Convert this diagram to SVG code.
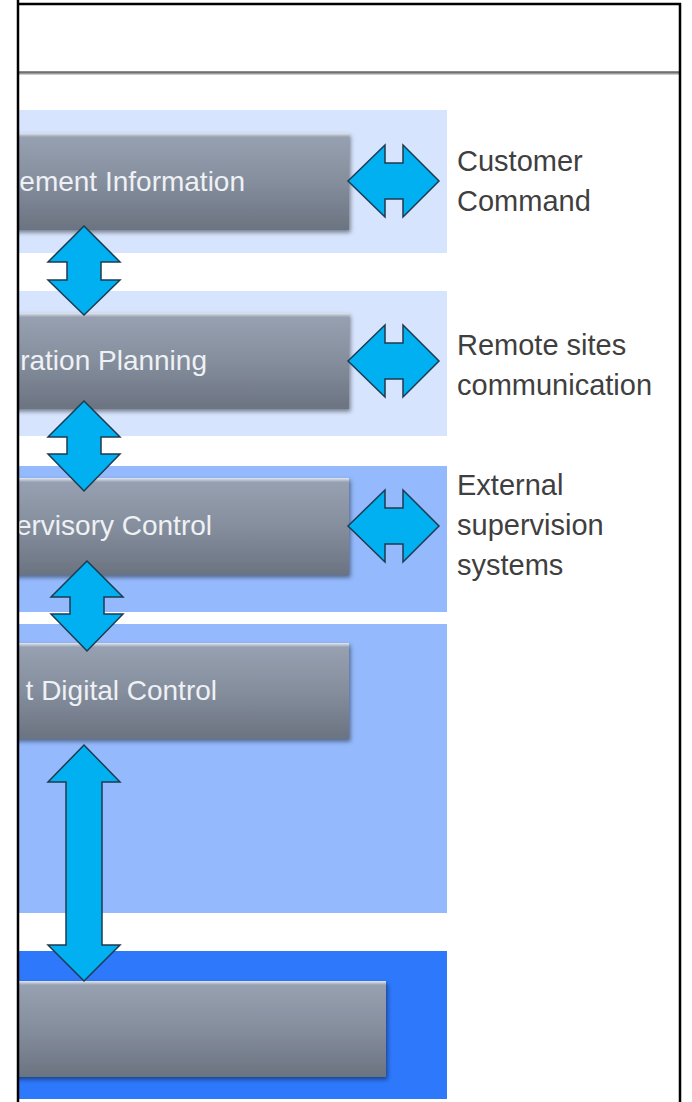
<svg xmlns="http://www.w3.org/2000/svg" width="692" height="1102" viewBox="0 0 692 1102">
  <style>
    .band1 { fill: #D6E4FD; }
    .band2 { fill: #94B9FC; }
    .band3 { fill: #2E78FC; }
    .box { fill: url(#boxGrad); filter: url(#shadow); }
    .hl { fill: url(#hlGrad); }
    .btxt { font-family: "Liberation Sans", Arial, sans-serif; font-size: 28px; fill: #EEF1F5; text-anchor: end; }
    .stxt { font-family: "Liberation Sans", Arial, sans-serif; font-size: 29px; fill: #3F3F3F; }
    .arr { fill: #00B0F0; stroke: #1E3A50; stroke-width: 1.5; stroke-linejoin: miter; }
  </style>
  <defs>
    <linearGradient id="boxGrad" x1="0" y1="0" x2="0" y2="1">
      <stop offset="0" stop-color="#98A2B2"/>
      <stop offset="0.5" stop-color="#858E9D"/>
      <stop offset="1" stop-color="#6B7381"/>
    </linearGradient>
    <linearGradient id="hlGrad" x1="0" y1="0" x2="0" y2="1">
      <stop offset="0" stop-color="#E2E8F0"/>
      <stop offset="1" stop-color="#98A2B2"/>
    </linearGradient>
    <linearGradient id="sepGrad" x1="0" y1="0" x2="0" y2="1">
      <stop offset="0" stop-color="#9A9A9A"/>
      <stop offset="0.4" stop-color="#6E6E6E"/>
      <stop offset="1" stop-color="#E6E6E6"/>
    </linearGradient>
    <filter id="shadow" x="-10%" y="-20%" width="120%" height="150%">
      <feDropShadow dx="1.5" dy="2.5" stdDeviation="2" flood-color="#000" flood-opacity="0.45"/>
    </filter>
    <clipPath id="frameClip">
      <rect x="19" y="0" width="661" height="1102"/>
    </clipPath>
  </defs>

  <rect x="0" y="0" width="692" height="1102" fill="#FFFFFF"/>

  <g clip-path="url(#frameClip)">
    <g id="bands">
      <rect class="band1" x="19" y="110" width="428" height="143"/>
      <rect class="band1" x="19" y="291" width="428" height="145"/>
      <rect class="band2" x="19" y="466" width="428" height="146"/>
      <rect class="band2" x="19" y="624" width="428" height="289"/>
      <rect class="band3" x="19" y="951" width="428" height="148"/>
    </g>

    <g id="node-management">
      <rect class="box" x="-200" y="133" width="549" height="97"/>
      <rect class="hl" x="-200" y="133" width="549" height="4"/>
      <text class="btxt" x="245" y="191">ement Information</text>
    </g>
    <g id="node-planning">
      <rect class="box" x="-200" y="313" width="549" height="96"/>
      <rect class="hl" x="-200" y="313" width="549" height="4"/>
      <text class="btxt" x="207" y="370">ration Planning</text>
    </g>
    <g id="node-supervisory">
      <rect class="box" x="-200" y="478" width="549" height="97"/>
      <rect class="hl" x="-200" y="478" width="549" height="4"/>
      <text class="btxt" x="212" y="535">ervisory Control</text>
    </g>
    <g id="node-ddc">
      <rect class="box" x="-200" y="643" width="549" height="96"/>
      <rect class="hl" x="-200" y="643" width="549" height="4"/>
      <text class="btxt" x="217" y="700">t Digital Control</text>
    </g>
    <g id="node-field">
      <rect class="box" x="-200" y="981" width="586" height="96"/>
      <rect class="hl" x="-200" y="981" width="586" height="4"/>
    </g>

    <g id="connectors">
      <path class="arr" d="M84,226 L120,262 L101,262 L101,280 L120,280 L84,315 L48,280 L67,280 L67,262 L48,262 Z"/>
      <path class="arr" d="M84,401 L120,437 L101,437 L101,454 L120,454 L84,491 L48,454 L67,454 L67,437 L48,437 Z"/>
      <path class="arr" d="M87,561 L123,597 L104,597 L104,614 L123,614 L87,651 L51,614 L70,614 L70,597 L51,597 Z"/>
      <path class="arr" d="M84,745 L120,782 L102,782 L102,945 L120,945 L84,981 L48,945 L66,945 L66,782 L48,782 Z"/>
      <path class="arr" d="M348,181 L385,145 L385,163 L403,163 L403,145 L439,181 L403,217 L403,199 L385,199 L385,217 Z"/>
      <path class="arr" d="M348,361 L385,325 L385,343 L403,343 L403,325 L439,361 L403,397 L403,379 L385,379 L385,397 Z"/>
      <path class="arr" d="M348,526 L385,490 L385,508 L403,508 L403,490 L439,526 L403,562 L403,544 L385,544 L385,562 Z"/>
    </g>
  </g>

  <g id="label-customer">
    <text class="stxt" x="457" y="171">Customer</text>
    <text class="stxt" x="457" y="211">Command</text>
  </g>
  <g id="label-remote">
    <text class="stxt" x="457" y="355">Remote sites</text>
    <text class="stxt" x="457" y="395">communication</text>
  </g>
  <g id="label-external">
    <text class="stxt" x="457" y="495">External</text>
    <text class="stxt" x="457" y="535">supervision</text>
    <text class="stxt" x="457" y="575">systems</text>
  </g>

  <g id="frame">
    <rect x="18" y="71" width="662" height="4" fill="url(#sepGrad)"/>
    <line x1="18" y1="0" x2="18" y2="1102" stroke="#000" stroke-width="2.5"/>
    <line x1="17" y1="4" x2="681" y2="4" stroke="#000" stroke-width="2.5"/>
    <line x1="680" y1="3" x2="680" y2="1102" stroke="#000" stroke-width="2.5"/>
  </g>
</svg>
